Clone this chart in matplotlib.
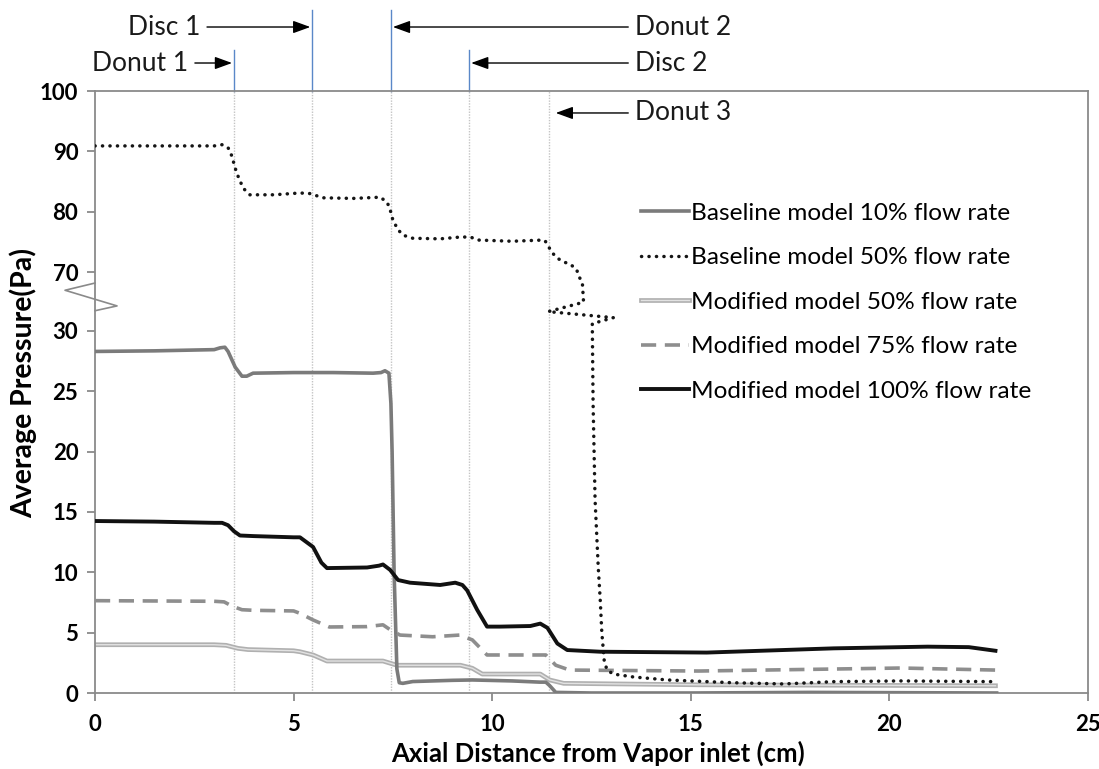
import numpy as np
import matplotlib
matplotlib.use("Agg")
import matplotlib.pyplot as plt
from matplotlib.transforms import blended_transform_factory
from matplotlib.ticker import FixedLocator, FixedFormatter

# ---------------------------------------------------------------- data
x_base10 = [0, 1.5, 3.0, 3.15, 3.27, 3.35, 3.53, 3.7, 3.82, 3.98, 5.0, 6.0, 7.0, 7.2,
            7.3, 7.4, 7.45, 7.48, 7.53, 7.6, 7.66, 7.75, 8.0, 9.0, 9.5, 10.5, 11.2,
            11.35, 11.45, 11.6, 12.5, 15.0, 18.0, 22.7]
y_base10 = [28.3, 28.35, 28.45, 28.6, 28.65, 28.3, 27.0, 26.25, 26.25, 26.5, 26.55, 26.55,
            26.5, 26.55, 26.7, 26.5, 24.0, 20.0, 10.0, 2.0, 0.85, 0.8, 0.95, 1.05, 1.08,
            1.0, 0.9, 0.9, 0.6, 0.05, 0.0, 0.0, 0.05, 0.0]

# baseline 50% crosses the axis break (the zig-zag is part of the drawn curve)
x_base50 = [0, 1.5, 3.0, 3.2, 3.35, 3.42, 3.48, 3.53, 3.6, 3.73, 3.9, 4.5, 5.16, 5.42,
            5.6, 5.75, 6.5, 7.18, 7.35, 7.42, 7.5, 7.63, 7.76, 8.0, 8.69, 9.2, 9.45,
            9.65, 10.5, 11.28, 11.33, 11.41, 11.51, 11.64, 11.79, 11.96, 12.12, 12.19,
            12.27, 12.3, 11.41, 13.05, 12.52, 12.54, 12.59, 12.67, 12.72, 12.76, 12.82,
            12.89, 13.05, 13.55, 14.41, 16.07, 17.33, 18.6, 20.28, 22.67]
y_base50 = [90.9, 90.9, 90.9, 91.1, 90.6, 89.7, 88.4, 87.2, 85.9, 83.9, 82.8, 82.8, 83.1,
            83.0, 82.6, 82.3, 82.2, 82.4, 81.6, 80.6, 78.6, 77.0, 76.1, 75.6, 75.5, 75.8,
            75.8, 75.3, 75.1, 75.3, 75.2, 74.3, 73.2, 72.3, 71.7, 71.3, 70.5, 69.2, 68.2,
            65.0, 31.6, 31.1, 30.6, 24.0, 16.0, 10.4, 7.7, 5.0, 2.7, 1.9, 1.57, 1.33,
            1.08, 0.85, 0.75, 0.94, 1.0, 0.94]

x_mod50 = [0, 3.0, 3.3, 3.6, 3.85, 5.0, 5.16, 5.49, 5.84, 7.25, 7.6, 9.2, 9.5, 9.75,
           11.21, 11.45, 11.8, 15.2, 22.67]
y_mod50 = [4.0, 4.0, 3.95, 3.7, 3.6, 3.5, 3.42, 3.15, 2.65, 2.65, 2.3, 2.3, 2.05, 1.57,
           1.57, 1.08, 0.8, 0.68, 0.6]

x_mod75 = [0, 3.0, 3.25, 3.45, 3.7, 4.0, 5.0, 5.16, 5.49, 5.9, 6.85, 7.25, 7.45, 7.68,
           8.5, 9.18, 9.5, 9.87, 11.2, 11.35, 11.6, 11.95, 15.2, 20.3, 22.67]
y_mod75 = [7.65, 7.6, 7.55, 7.2, 6.9, 6.85, 6.8, 6.6, 6.05, 5.47, 5.5, 5.65, 5.2, 4.8,
           4.66, 4.8, 4.4, 3.15, 3.15, 3.15, 2.3, 1.9, 1.82, 2.07, 1.9]

x_mod100 = [0, 1.5, 3.0, 3.2, 3.35, 3.5, 3.65, 4.0, 5.0, 5.16, 5.49, 5.7, 5.84, 6.85,
            7.15, 7.25, 7.43, 7.63, 7.93, 8.69, 9.07, 9.25, 9.37, 9.62, 9.87, 10.2,
            10.96, 11.21, 11.39, 11.64, 11.89, 12.72, 15.4, 18.6, 20.96, 22.0, 22.67]
y_mod100 = [14.25, 14.2, 14.1, 14.1, 13.9, 13.4, 13.05, 13.0, 12.9, 12.9, 12.1, 10.8,
            10.35, 10.4, 10.55, 10.65, 10.2, 9.36, 9.14, 8.95, 9.14, 8.95, 8.5, 6.9, 5.5,
            5.5, 5.55, 5.75, 5.4, 4.1, 3.56, 3.42, 3.35, 3.7, 3.84, 3.8, 3.5]

legend_labels = ["Baseline model 10% flow rate", "Baseline model 50% flow rate",
                 "Modified model 50% flow rate", "Modified model 75% flow rate",
                 "Modified model 100% flow rate"]

# geometry features along the axis (cm)
feature_names = ["Donut 1", "Disc 1", "Donut 2", "Disc 2", "Donut 3"]
feature_pos = [3.5, 5.47, 7.45, 9.42, 11.43]

x_ticks = [0, 5, 10, 15, 20, 25]
y_ticks = [0, 5, 10, 15, 20, 25, 30, 70, 80, 90, 100]

# ---------------------------------------------------------------- broken y scale
B_LO, B_HI, EPS = 31.8, 63.86, 0.01


def fwd(y):
    y = np.asarray(y, dtype=float)
    return np.where(y <= B_LO, y,
                    np.where(y >= B_HI, B_LO + EPS + (y - B_HI) / 2.0,
                             B_LO + (y - B_LO) * EPS / (B_HI - B_LO)))


def inv(v):
    v = np.asarray(v, dtype=float)
    return np.where(v <= B_LO, v,
                    np.where(v >= B_LO + EPS, B_HI + (v - B_LO - EPS) * 2.0,
                             B_LO + (v - B_LO) * (B_HI - B_LO) / EPS))


# ---------------------------------------------------------------- figure
W, H = 1099, 769
fig = plt.figure(figsize=(W / 100, H / 100), dpi=100)
ax = fig.add_axes([95 / W, 76 / H, 993 / W, 602 / H])
ax.set_yscale("function", functions=(fwd, inv))
ax.set_xlim(0, 25)
ax.set_ylim(0, 100)

SPINE = "#8a8a8a"
TXT = "Lato"

for xv in feature_pos:
    ax.axvline(xv, color="#c4c4c4", lw=1.0, ls=(0, (1, 1)), zorder=1)

l_b10, = ax.plot(x_base10, y_base10, color="#7b7b7b", lw=2.6, zorder=3,
                 solid_joinstyle="round")
l_b50, = ax.plot(x_base50, y_base50, color="#151515", lw=2.5, zorder=4,
                 ls=(0, (0.05, 2.1)), dash_capstyle="round")
l_m50o, = ax.plot(x_mod50, y_mod50, color="#b0b0b0", lw=3.4, zorder=2,
                  solid_joinstyle="round")
l_m50i, = ax.plot(x_mod50, y_mod50, color="#e2e2e2", lw=1.0, zorder=2,
                  solid_joinstyle="round")
l_m75, = ax.plot(x_mod75, y_mod75, color="#8e8e8e", lw=2.6, zorder=3,
                 ls=(0, (4.2, 2.4)))
l_m100, = ax.plot(x_mod100, y_mod100, color="#111111", lw=2.8, zorder=5,
                  solid_joinstyle="round")

# axes styling
for s in ax.spines.values():
    s.set_color(SPINE)
    s.set_linewidth(1.3)
ax.xaxis.set_major_locator(FixedLocator(x_ticks))
ax.yaxis.set_major_locator(FixedLocator(y_ticks))
ax.yaxis.set_major_formatter(FixedFormatter([str(t) for t in y_ticks]))
ax.yaxis.set_minor_locator(FixedLocator([]))
ax.tick_params(axis="both", direction="out", length=6, width=1.3, color=SPINE,
               labelsize=16, pad=6)
ax.tick_params(axis="x", pad=9)
for lab in ax.get_xticklabels() + ax.get_yticklabels():
    lab.set_fontweight("bold")
    lab.set_family(TXT)

ax.set_xlabel("Axial Distance from Vapor inlet (cm)", fontsize=18.5, fontweight="bold",
              family=TXT)
ax.set_ylabel("Average Pressure(Pa)", fontsize=20.5, fontweight="bold", family=TXT)
ax.xaxis.label.set_va("center")
ax.yaxis.label.set_va("center")
ax.xaxis.set_label_coords(0.507, -0.1)
ax.yaxis.set_label_coords(-0.072, 0.515)

# break marks on the y axis
brk_x = [0, -0.0302, 0.0222, 0]
brk_y = [0.681, 0.669, 0.643, 0.635]
ax.plot(brk_x, brk_y, transform=ax.transAxes, color=SPINE, lw=1.2, clip_on=False,
        zorder=6)

# feature markers above the plot
trans = blended_transform_factory(ax.transData, ax.transAxes)
tall = [False, True, True, False]
for xv, is_tall in zip(feature_pos[:4], tall):
    ax.plot([xv, xv], [1.0, 1.1346 if is_tall else 1.068], transform=trans,
            color="#5a88c8", lw=1.0, clip_on=False)

arrow_kw = dict(arrowstyle="-|>,head_length=0.55,head_width=0.2", color="black",
                lw=1.0, shrinkA=3, shrinkB=0)
ann = [
    ("Disc 1", 5.42, 2.645, 1.1063, "right"),
    ("Donut 1", 3.45, 2.34, 1.0465, "right"),
    ("Donut 2", 7.5, 13.6, 1.1063, "left"),
    ("Disc 2", 9.47, 13.6, 1.0465, "left"),
    ("Donut 3", 11.6, 13.6, 0.9635, "left"),
]
for name, xtip, xtxt, yf, side in ann:
    ax.annotate(name, xy=(xtip, yf), xycoords=trans, xytext=(xtxt, yf),
                textcoords=trans, ha=side, va="center", fontsize=19, family=TXT,
                color="#1a1a1a", arrowprops=arrow_kw, annotation_clip=False)

ax.legend([l_b10, l_b50, (l_m50o, l_m50i), l_m75, l_m100], legend_labels,
          loc="upper left", bbox_to_anchor=(0.538, 0.835), frameon=False,
          handlelength=1.96, handletextpad=0.08, labelspacing=0.96, borderpad=0,
          prop={"family": TXT, "size": 17.6})

fig.savefig("out.png", dpi=100)
